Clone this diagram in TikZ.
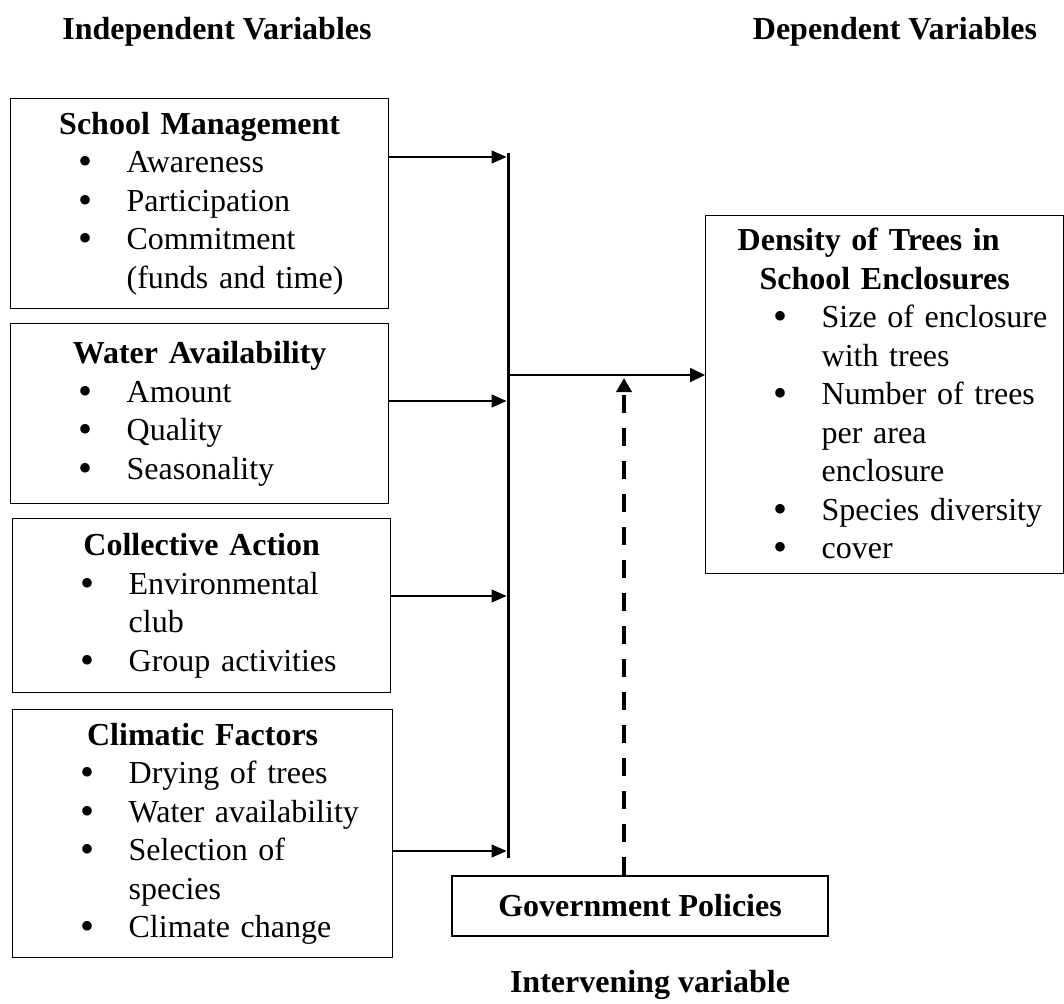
\documentclass[tikz,border=0pt]{standalone}
\usepackage{fontspec}
\usepackage{graphicx}
\setmainfont{Liberation Serif}
\usetikzlibrary{arrows.meta}
\newcommand{\bulmark}{\raisebox{-2pt}{\scalebox{1.25}{\textbullet}}}
\newcommand{\itm}[1]{{\leftskip=116pt\relax\rightskip=0pt plus 1fil\relax\parindent=0pt\noindent\llap{\bulmark\hspace{34pt}}#1\par}}
\newcommand{\hd}[1]{{\centering\bfseries #1\par}}
\begin{document}
\begin{tikzpicture}[x=1pt,y=-1pt,
  box/.style={draw, line width=1.3pt, inner xsep=0pt, inner ysep=0pt, anchor=north west,
    font=\fontsize{32}{38.5}\selectfont, text width=#1, minimum width=#1},
  ttl/.style={font=\fontsize{32}{36}\selectfont\bfseries, inner sep=0pt},
  thin/.style={line width=1.3pt, -{Triangle[length=15pt,width=13pt]}},
  main/.style={line width=2pt, -{Triangle[length=15pt,width=14pt]}},
  dsh/.style={line width=4pt, dash pattern=on 18pt off 15pt, -{Triangle[length=14pt,width=15pt]}},
  bar/.style={line width=3pt}]
\useasboundingbox (0,0) rectangle (1064,1003);

\node[ttl] (indep) at (217,32) {Independent Variables};
\node[ttl] (dep) at (895,32) {Dependent Variables};
\node[ttl] (interv) at (650,985) {Intervening variable};

\node[box=378pt, minimum height=210pt] (sm) at (10,98) {%
  \hd{School Management}\itm{Awareness}\itm{Participation}\itm{Commitment\newline(funds and time)}};
\node[box=378pt, minimum height=180pt] (wa) at (10,323) {%
  \hd{Water Availability}\itm{Amount}\itm{Quality}\itm{Seasonality}};
\node[box=378pt, minimum height=174pt] (ca) at (12,518) {%
  \hd{Collective Action}\itm{Environmental\newline club}\itm{Group activities}};
\node[box=380pt, minimum height=248pt] (cf) at (12,709) {%
  \hd{Climatic Factors}\itm{Drying of trees}\itm{Water availability}\itm{Selection of\newline species}\itm{Climate change}};
\node[box=358pt, minimum height=358pt] (dens) at (705,215) {%
  \hd{Density of Trees in\newline School Enclosures}\itm{Size of enclosure\newline with trees}\itm{Number of trees\newline per area\newline enclosure}\itm{Species diversity}\itm{cover}};
\node[draw, line width=1.3pt, minimum width=376pt, minimum height=60pt, inner sep=0pt,
  font=\fontsize{32}{36}\selectfont\bfseries] (gov) at (640,906) {Government Policies};

\coordinate (bartop) at (508,153);
\coordinate (barbot) at (508,858);
\coordinate (b1) at (506.5,157);
\coordinate (b2) at (506.5,401);
\coordinate (b3) at (506.5,596);
\coordinate (b4) at (506.5,851);
\coordinate (hm) at (508,375);
\coordinate (dtop) at (624,378);

\draw[bar] (bartop) -- (barbot);
\draw[thin] (sm.east |- b1) -- (b1);
\draw[thin] (wa.east |- b2) -- (b2);
\draw[thin] (ca.east |- b3) -- (b3);
\draw[thin] (cf.east |- b4) -- (b4);
\draw[main] (hm) -- (dens.west |- hm);
\draw[dsh] (gov.north -| dtop) -- (dtop);
\end{tikzpicture}
\end{document}
